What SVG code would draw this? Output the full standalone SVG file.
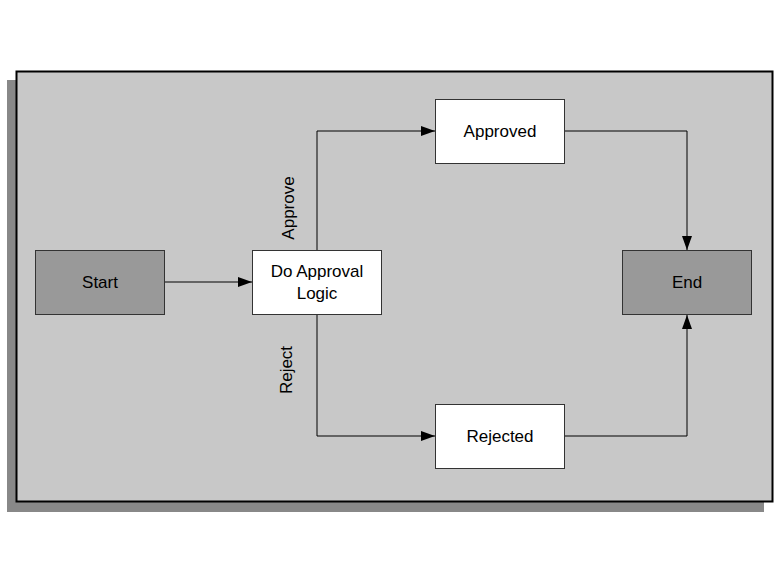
<svg xmlns="http://www.w3.org/2000/svg" width="780" height="580" viewBox="0 0 780 580">
<style>
text{font-family:"Liberation Sans",Arial,sans-serif;font-size:17px;fill:#000;text-anchor:middle;dominant-baseline:central}
.dark{fill:#999;stroke:#333;stroke-width:1}
.light{fill:#fff;stroke:#333;stroke-width:1}
.c{fill:none;stroke:#000;stroke-width:1}
</style>
<defs><marker id="a" markerWidth="14" markerHeight="10" refX="14" refY="5" orient="auto" markerUnits="userSpaceOnUse"><path d="M0,0 L14,5 L0,10 z" fill="#000"/></marker></defs>
<rect width="780" height="580" fill="#fff"/>
<rect x="7" y="80" width="757" height="432" fill="#888"/>
<rect x="16.5" y="71.5" width="756" height="430" fill="#c8c8c8" stroke="#000" stroke-width="2"/>
<g id="connectors">
<path class="c" d="M165,282 H252" marker-end="url(#a)"/>
<path class="c" d="M317,250 V131 H435" marker-end="url(#a)"/>
<path class="c" d="M317,315 V436 H435" marker-end="url(#a)"/>
<path class="c" d="M565,131 H687 V250" marker-end="url(#a)"/>
<path class="c" d="M565,436 H687 V315" marker-end="url(#a)"/>
<text transform="translate(288,208) rotate(-90)">Approve</text>
<text transform="translate(286,370) rotate(-90)">Reject</text>
</g>
<g id="start"><rect class="dark" x="35.5" y="250.5" width="129" height="64"/><text x="100" y="282">Start</text></g>
<g id="logic"><rect class="light" x="252.5" y="250.5" width="129" height="64"/><text x="317" y="271">Do Approval</text><text x="317" y="293">Logic</text></g>
<g id="approved"><rect class="light" x="435.5" y="99.5" width="129" height="64"/><text x="500" y="131">Approved</text></g>
<g id="rejected"><rect class="light" x="435.5" y="404.5" width="129" height="64"/><text x="500" y="436">Rejected</text></g>
<g id="end"><rect class="dark" x="622.5" y="250.5" width="129" height="64"/><text x="687" y="282">End</text></g>
</svg>
